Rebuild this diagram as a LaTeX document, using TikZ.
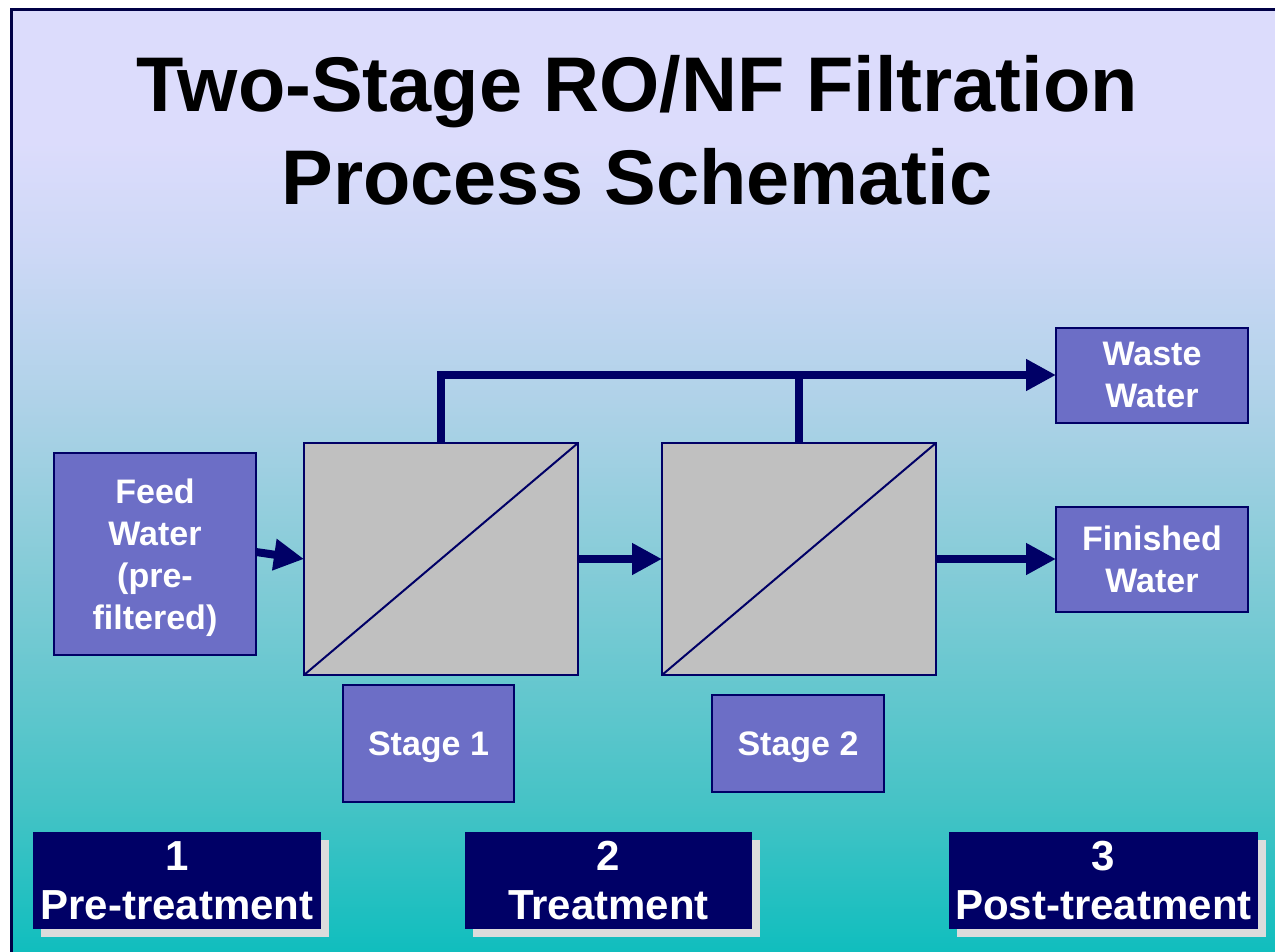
\documentclass[tikz,border=0pt]{standalone}
\usepackage{fontspec}
\setmainfont{Liberation Sans}
\usetikzlibrary{arrows.meta,shadows}
\definecolor{navy}{RGB}{0,0,102}
\definecolor{frame}{RGB}{0,0,70}
\definecolor{boxfill}{RGB}{108,110,198}
\definecolor{stagegray}{RGB}{192,192,192}
\definecolor{shadowc}{RGB}{220,220,220}
\definecolor{bgA}{RGB}{16,190,190}
\definecolor{bgB}{RGB}{70,195,198}
\definecolor{bgC}{RGB}{135,204,216}
\definecolor{bgD}{RGB}{175,210,232}
\definecolor{bgE}{RGB}{205,216,246}
\definecolor{bgF}{RGB}{220,220,252}
\pgfdeclareverticalshading{slidebg}{100bp}{color(0bp)=(bgA); color(25bp)=(bgA); color(33bp)=(bgB); color(45.8bp)=(bgC); color(54.2bp)=(bgD); color(62.2bp)=(bgE); color(68bp)=(bgF); color(100bp)=(bgF)}
\tikzset{
  bluebox/.style={draw=navy, line width=2pt, fill=boxfill, text=white,
    font=\bfseries\fontsize{34}{42}\selectfont, align=center,
    inner sep=0pt, outer sep=0pt},
  stagebox/.style={draw=navy, line width=2pt, fill=stagegray, inner sep=0pt, outer sep=0pt},
  phasebox/.style={fill=navy, text=white, inner sep=0pt, outer sep=0pt,
    font=\bfseries\fontsize{42}{49}\selectfont, align=center,
    minimum height=97pt,
    drop shadow={shadow xshift=8pt, shadow yshift=-8pt, fill=shadowc, opacity=1}},
  pipe/.style={draw=navy, line width=8pt},
  tip/.style={-{Triangle[length=30pt,width=30pt]}},
  titlefont/.style={font=\bfseries\fontsize{77.5}{92}\selectfont, text=black, inner sep=0pt}
}
\begin{document}
\begin{tikzpicture}[x=1pt,y=-1pt]
\useasboundingbox (0,0) rectangle (1275,952);
\fill[white] (0,0) rectangle (1275,952);
\shade[shading=slidebg] (11,10) rectangle (1290,952);
\draw[frame, line width=3pt] (11,10) rectangle (1290,965);

\node[titlefont, anchor=base] (t1) at (637,112) {Two-Stage RO/NF Filtration};
\node[titlefont, anchor=base] (t2) at (637,205) {Process Schematic};

\node[bluebox, minimum width=202pt, minimum height=202pt, text depth=0pt] (feed) at (155,554) {Feed\\Water\\(pre-\\filtered)};
\node[stagebox, minimum width=274pt, minimum height=232pt] (s1) at (441,559) {};
\node[stagebox, minimum width=274pt, minimum height=232pt] (s2) at (799,559) {};
\draw[navy, line width=2pt] (s1.south west) -- (s1.north east);
\draw[navy, line width=2pt] (s2.south west) -- (s2.north east);

\node[bluebox, minimum width=171pt, minimum height=117pt, text depth=0pt] (lab1) at (428.5,743.5) {Stage 1};
\node[bluebox, minimum width=172pt, minimum height=97pt, text depth=0pt] (lab2) at (798,743.5) {Stage 2};

\node[bluebox, minimum width=192pt, minimum height=95pt] (waste) at (1152,375) {Waste\\Water};
\node[bluebox, minimum width=192pt, minimum height=105pt] (fin) at (1152,559) {Finished\\Water};

\node[phasebox, minimum width=288pt] (b1) at (177,880.5) {1\\Pre-treatment};
\node[phasebox, minimum width=287pt] (b2) at (608.5,880.5) {2\\Treatment};
\node[phasebox, minimum width=309pt] (b3) at (1103.5,880.5) {3\\Post-treatment};

\draw[pipe, tip] ([yshift=2pt]feed.east) -- (s1.west);
\draw[pipe, tip] (s1.east) -- (s2.west);
\draw[pipe, tip] (s2.east) -- (fin.west);
\draw[pipe, tip] (s1.north) |- (waste.west);
\draw[pipe] (s2.north) -- (s2.north |- waste.west);
\end{tikzpicture}
\end{document}
